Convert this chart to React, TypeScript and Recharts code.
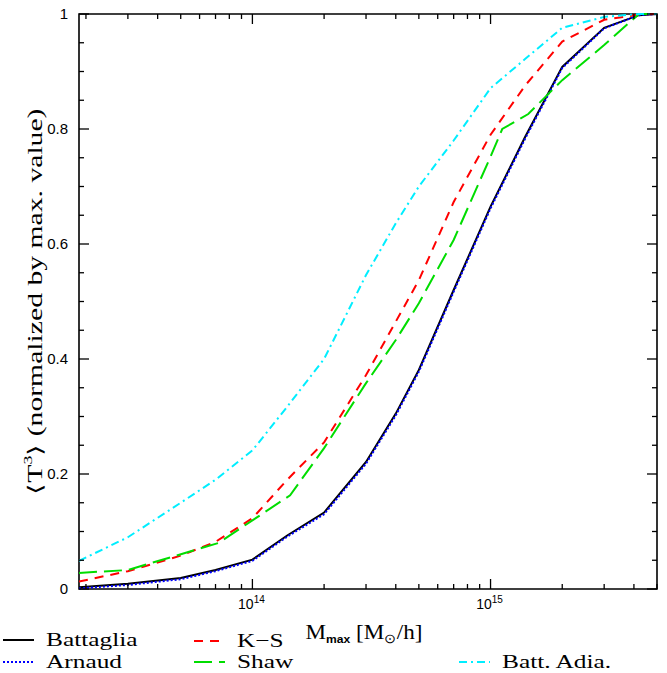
import React from 'react';
import { LineChart, Line, XAxis, YAxis, ReferenceArea, Label } from 'recharts';

// masses (M_sun/h) shared by most curves
const massGrid = [1.87e13, 3e13, 5e13, 7e13, 1e14, 1.4e14, 2e14, 3e14, 4e14, 5e14, 7e14, 1e15, 1.4e15, 2e15, 3e15, 4.2e15, 5e15];
const battaglia = [0.003, 0.009, 0.019, 0.033, 0.051, 0.093, 0.133, 0.221, 0.305, 0.381, 0.52, 0.665, 0.787, 0.908, 0.976, 0.998, 1];
const arnaud = [0.001, 0.007, 0.017, 0.031, 0.049, 0.091, 0.13, 0.218, 0.302, 0.378, 0.517, 0.662, 0.784, 0.906, 0.975, 0.998, 1];
const ks = [0.013, 0.031, 0.058, 0.082, 0.123, 0.19, 0.255, 0.372, 0.465, 0.537, 0.673, 0.79, 0.876, 0.952, 0.99, 0.999, 1];
const battAdia = [0.049, 0.09, 0.15, 0.19, 0.241, 0.317, 0.4, 0.546, 0.636, 0.7, 0.78, 0.871, 0.922, 0.976, 0.995, 1, 1];

// Shaw has its own sampling
const shawMass = [1.87e13, 3e13, 7.2e13, 1.44e14, 2e14, 3e14, 4e14, 5e14, 7e14, 1e15, 1.12e15, 1.44e15, 2e15, 3e15, 4.2e15, 5e15];
const shaw = [0.028, 0.033, 0.08, 0.163, 0.245, 0.358, 0.433, 0.497, 0.607, 0.752, 0.8, 0.826, 0.885, 0.946, 1, 1];

const xDomain = [1.87e13, 5e15];
const xTicks = [2e13, 3e13, 4e13, 5e13, 6e13, 7e13, 8e13, 9e13, 1e14, 2e14, 3e14, 4e14, 5e14, 6e14, 7e14, 8e14, 9e14, 1e15, 2e15, 3e15, 4e15, 5e15];
const xMajor = [1e14, 1e15];
const yTicks = [0, 0.05, 0.1, 0.15, 0.2, 0.25, 0.3, 0.35, 0.4, 0.45, 0.5, 0.55, 0.6, 0.65, 0.7, 0.75, 0.8, 0.85, 0.9, 0.95, 1];
const yLabels: Record<string, string> = { '0': '0', '0.2': '0.2', '0.4': '0.4', '0.6': '0.6', '0.8': '0.8', '1': '1' };

const toPoints = (ms: number[], vs: number[]) => ms.map((m, i) => ({ m, v: vs[i] }));

const series = [
  { name: 'Battaglia', data: toPoints(massGrid, battaglia), color: '#000000', dash: undefined, width: 2 },
  { name: 'Arnaud', data: toPoints(massGrid, arnaud), color: '#0000ff', dash: '2 2', width: 2 },
  { name: 'K−S', data: toPoints(massGrid, ks), color: '#ff0000', dash: '9 7', width: 2 },
  { name: 'Shaw', data: toPoints(shawMass, shaw), color: '#00dd00', dash: '18 7', width: 2 },
  { name: 'Batt. Adia.', data: toPoints(massGrid, battAdia), color: '#00eeff', dash: '8 4 2 4', width: 2 },
];

// legend slots (x of sample start, row centre y)
const legendSlots = [
  { x: 3, y: 640 },
  { x: 3, y: 662 },
  { x: 194, y: 641 },
  { x: 194, y: 662 },
  { x: 459, y: 662 },
];

const W = 667;
const H = 673;
const PLOT_W = 578;
const PLOT_H = 575;
const serif = '"Liberation Serif", "Times New Roman", serif';
const sans = '"Liberation Sans", Arial, sans-serif';

const XTick = (props: any) => {
  const { x, y, payload } = props;
  const major = xMajor.includes(payload.value);
  const len = major ? 10 : 5;
  const exp = Math.round(Math.log10(payload.value));
  return (
    <g>
      <line x1={x} x2={x} y1={y} y2={y - len} stroke="#000" strokeWidth={1.3} />
      <line x1={x} x2={x} y1={y - PLOT_H} y2={y - PLOT_H + len} stroke="#000" strokeWidth={1.3} />
      {major && (
        <text x={x - 1} y={y + 20} textAnchor="middle" fontFamily={sans} fontSize={14} fill="#000">
          10<tspan dy={-6} fontSize={10}>{exp}</tspan>
        </text>
      )}
    </g>
  );
};

const YTick = (props: any) => {
  const { x, y, payload } = props;
  const label = yLabels[String(payload.value)];
  const len = label ? 10 : 5;
  return (
    <g>
      <line x1={x} x2={x + len} y1={y} y2={y} stroke="#000" strokeWidth={1.3} />
      <line x1={x + PLOT_W} x2={x + PLOT_W - len} y1={y} y2={y} stroke="#000" strokeWidth={1.3} />
      {label && (
        <text x={x - 11} y={y + 5} textAnchor="end" fontFamily={sans} fontSize={15} fill="#000">
          {label}
        </text>
      )}
    </g>
  );
};

const XTitle = (props: any) => {
  const { viewBox } = props;
  const cx = viewBox.x + viewBox.width / 2 - 4;
  const ty = viewBox.y + 50;
  return (
    <text transform={`translate(${cx},${ty}) scale(1.1,1)`} textAnchor="middle" fontFamily={serif} fontSize={21} fill="#000">
      M<tspan fontFamily={sans} fontWeight="bold" fontSize={11} dy={4}>max</tspan>
      <tspan dy={-4}> [M</tspan>
      <tspan fontSize={13} dy={4}>⊙</tspan>
      <tspan dy={-4}>/h]</tspan>
    </text>
  );
};

const YTitle = (props: any) => {
  const { viewBox } = props;
  const cx = viewBox.x + 16;
  const cy = viewBox.y + viewBox.height / 2;
  return (
    <text
      x={cx}
      y={cy}
      transform={`rotate(-90 ${cx} ${cy})`}
      textAnchor="middle"
      dominantBaseline="central"
      fontFamily={serif}
      fontSize={20}
      textLength={386}
      lengthAdjust="spacingAndGlyphs"
      fill="#000"
    >
      ⟨T<tspan fontSize={12} dy={-7}>3</tspan>
      <tspan dy={7}>⟩ (normalized by max. value)</tspan>
    </text>
  );
};

function ChartLegend() {
  return (
    <svg width={W} height={50} style={{ position: 'absolute', left: 0, top: 623 }}>
      {series.map((s, i) => {
        const slot = legendSlots[i];
        const y = slot.y - 623;
        return (
          <g key={s.name}>
            <line
              x1={slot.x}
              x2={slot.x + 31}
              y1={y}
              y2={y}
              stroke={s.color}
              strokeWidth={s.width}
              strokeDasharray={s.dash}
            />
            <text
              transform={`translate(${slot.x + 43},${y + 6}) scale(1.3,1)`}
              fontFamily={serif}
              fontSize={19.5}
              fill="#000"
            >
              {s.name}
            </text>
          </g>
        );
      })}
    </svg>
  );
}

export default function App() {
  return (
    <div style={{ position: 'absolute', left: 0, top: 0, width: W, height: H, background: '#fff' }}>
      <LineChart width={W} height={H} margin={{ top: 14, right: 10, left: 19, bottom: 54 }}>
        <XAxis
          type="number"
          dataKey="m"
          scale="log"
          domain={xDomain}
          allowDataOverflow
          ticks={xTicks}
          interval={0}
          axisLine={false}
          tickLine={false}
          tickSize={0}
          tickMargin={0}
          tick={<XTick />}
          height={30}
        >
          <Label content={<XTitle />} />
        </XAxis>
        <YAxis
          type="number"
          domain={[0, 1]}
          ticks={yTicks}
          interval={0}
          axisLine={false}
          tickLine={false}
          tickSize={0}
          tickMargin={0}
          tick={<YTick />}
          width={60}
        >
          <Label content={<YTitle />} />
        </YAxis>
        <ReferenceArea x1={xDomain[0]} x2={xDomain[1]} y1={0} y2={1} fill="none" stroke="#000" strokeWidth={1.6} />
        {series.map((s) => (
          <Line
            key={s.name}
            data={s.data}
            dataKey="v"
            type="linear"
            stroke={s.color}
            strokeWidth={s.width}
            strokeDasharray={s.dash}
            dot={false}
            activeDot={false}
            isAnimationActive={false}
          />
        ))}
      </LineChart>
      <ChartLegend />
    </div>
  );
}
